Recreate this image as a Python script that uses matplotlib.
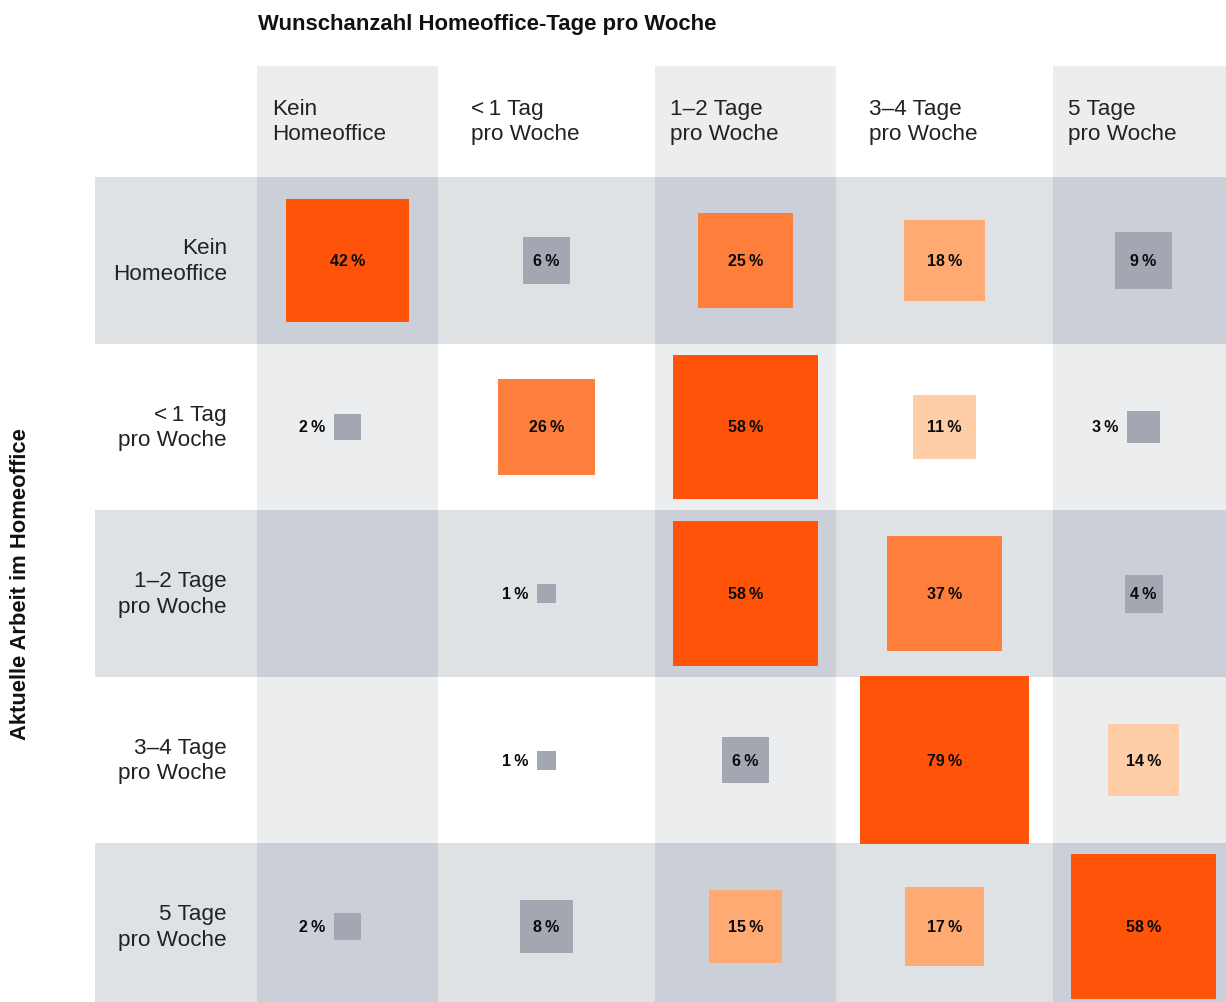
import matplotlib.pyplot as plt
from matplotlib.patches import Rectangle
import numpy as np

plt.rcParams['font.family'] = ['Liberation Sans', 'DejaVu Sans']

# desired home office days (columns) vs. current home office days (rows)
col_labels = ['Kein\nHomeoffice', '<\u20091 Tag\npro Woche', '1\u20132 Tage\npro Woche',
              '3\u20134 Tage\npro Woche', '5 Tage\npro Woche']
row_labels = ['Kein\nHomeoffice', '<\u20091 Tag\npro Woche', '1\u20132 Tage\npro Woche',
              '3\u20134 Tage\npro Woche', '5 Tage\npro Woche']

row_kein = [42, 6, 25, 18, 9]
row_lt1 = [2, 26, 58, 11, 3]
row_12 = [None, 1, 58, 37, 4]
row_34 = [None, 1, 6, 79, 14]
row_5 = [2, 8, 15, 17, 58]
values = [row_kein, row_lt1, row_12, row_34, row_5]

title = 'Wunschanzahl Homeoffice-Tage pro Woche'
ylabel = 'Aktuelle Arbeit im Homeoffice'

# layout in pixel units
W, H = 1226, 1003
x0, dx = 347.5, 199        # column centres
y0, dy = 261.5, 166.5      # row centres
col_w = 181
grid_left = 95
header_top = 67
k_side = 19.0              # side = k_side * sqrt(percent)

c_col = '#ECEDEF'
c_row = '#DFE2E5'
c_both = '#CBCFD7'


def square_color(v):
    if v < 10:
        return '#A2A7B2'
    if v < 15:
        return '#FFCDA8'
    if v < 20:
        return '#FFAA72'
    if v < 40:
        return '#FE7E3C'
    return '#FF530A'


fig = plt.figure(figsize=(W / 100, H / 100), dpi=100)
ax = fig.add_axes([0, 0, 1, 1])
ax.set_xlim(0, W)
ax.set_ylim(H, 0)
ax.axis('off')

n_cols = len(col_labels)
n_rows = len(row_labels)

# shaded columns (1st, 3rd, 5th)
for i in range(0, n_cols, 2):
    cx = x0 + i * dx
    ax.add_patch(Rectangle((cx - col_w / 2, header_top), col_w, H - header_top,
                           color=c_col, lw=0, zorder=0))

# shaded rows (1st, 3rd, 5th) and their crossings with shaded columns
for j in range(0, n_rows, 2):
    cy = y0 + j * dy
    ax.add_patch(Rectangle((grid_left, cy - dy / 2), W - grid_left, dy,
                           color=c_row, lw=0, zorder=1))
    for i in range(0, n_cols, 2):
        cx = x0 + i * dx
        ax.add_patch(Rectangle((cx - col_w / 2, cy - dy / 2), col_w, dy,
                               color=c_both, lw=0, zorder=2))

# squares with percentage labels
for j, row in enumerate(values):
    cy = y0 + j * dy
    for i, v in enumerate(row):
        if v is None:
            continue
        cx = x0 + i * dx
        s = k_side * np.sqrt(v)
        ax.add_patch(Rectangle((cx - s / 2, cy - s / 2), s, s,
                               color=square_color(v), lw=0, zorder=3))
        txt = f'{v}\u2009%'
        if v < 4:
            ax.text(cx - s / 2 - 9, cy, txt, ha='right', va='center',
                    fontsize=11.5, fontweight='bold', color='#0a0a0a', zorder=4)
        else:
            ax.text(cx, cy, txt, ha='center', va='center',
                    fontsize=11.5, fontweight='bold', color='#0a0a0a', zorder=4)

# column headers
for i, lab in enumerate(col_labels):
    cx = x0 + i * dx
    ax.text(cx - col_w / 2 + 15, 122, lab, ha='left', va='center',
            fontsize=16.2, color='#222222', linespacing=1.3)

# row headers
for j, lab in enumerate(row_labels):
    cy = y0 + j * dy
    ax.text(227, cy, lab, ha='right', va='center',
            fontsize=16.2, color='#222222', linespacing=1.3)

ax.text(258, 24, title, ha='left', va='center',
        fontsize=15.9, fontweight='bold', color='#111111')
ax.text(21, 584, ylabel, ha='center', va='center', rotation=90,
        fontsize=15.8, fontweight='bold', color='#111111')

fig.savefig('out.png', dpi=100)
